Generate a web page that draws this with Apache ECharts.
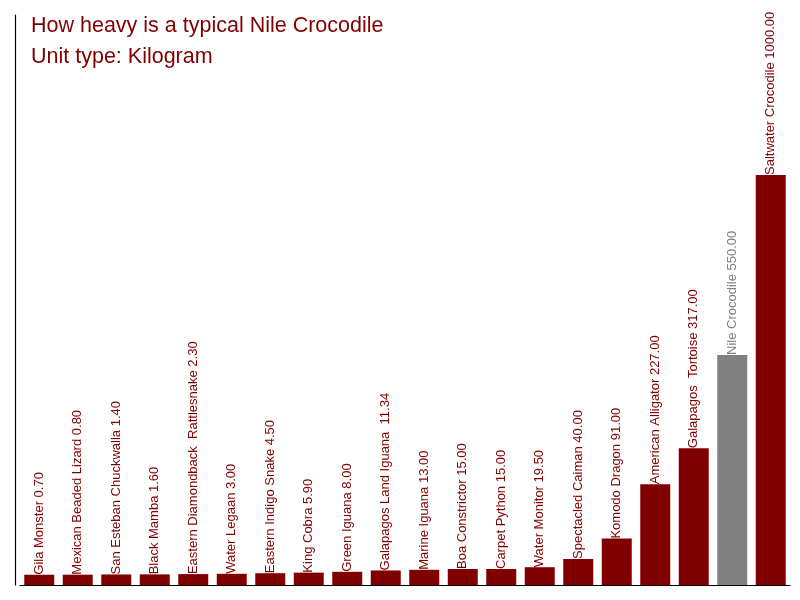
<!DOCTYPE html>
<html>
<head>
<meta charset="utf-8">
<script src="https://cdn.jsdelivr.net/npm/echarts@6/dist/echarts.min.js"></script>
<style>
    html, body { margin: 0; padding: 0; background: #fff; }
    #chart { width: 800px; height: 600px; }
</style>
</head>
<body>
<div id="chart"></div>
<script>
    'use strict';

    const animals = [
        'Gila Monster', 'Mexican Beaded Lizard', 'San Esteban Chuckwalla', 'Black Mamba',
        'Eastern Diamondback  Rattlesnake', 'Water Legaan', 'Eastern Indigo Snake', 'King Cobra',
        'Green Iguana', 'Galapagos Land Iguana ', 'Marine Iguana', 'Boa Constrictor',
        'Carpet Python', 'Water Monitor', 'Spectacled Caiman', 'Komodo Dragon',
        'American Alligator', 'Galapagos  Tortoise', 'Nile Crocodile', 'Saltwater Crocodile'
    ];
    const weights = [
        0.7, 0.8, 1.4, 1.6, 2.3, 3.0, 4.5, 5.9, 8.0, 11.34,
        13.0, 15.0, 15.0, 19.5, 40.0, 91.0, 227.0, 317.0, 550.0, 1000.0
    ];
    const highlight = 'Nile Crocodile';

    const red = '#800000';     // 柱子颜色
    const grey = '#808080';    // 高亮
    const baseOffset = 25;     // 柱子底部的留白

    const chart = echarts.init(document.getElementById('chart'));

    chart.setOption({
        animation: false,
        textStyle: { fontFamily: 'Liberation Sans, Arial, sans-serif' },
        title: {
            text: 'How heavy is a typical Nile Crocodile\nUnit type: Kilogram',
            left: 26,
            top: 6,
            textStyle: {
                color: red,
                fontSize: 21.5,
                fontWeight: 'normal',
                lineHeight: 31
            }
        },
        grid: { left: 20, right: 10, top: 15, bottom: 15 },
        xAxis: {
            type: 'category',
            data: animals,
            axisLine: { lineStyle: { color: '#000', width: 1.2 } },
            axisTick: { show: false },
            axisLabel: { show: false }
        },
        yAxis: {
            type: 'value',
            min: 0,
            max: 1400 + baseOffset,
            offset: 5,
            axisLine: { show: true, lineStyle: { color: '#000', width: 1.2 } },
            axisTick: { show: false },
            axisLabel: { show: false },
            splitLine: { show: false }
        },
        series: [{
            type: 'bar',
            stack: 'w',
            silent: true,
            barWidth: 30,
            itemStyle: { color: red },
            data: animals.map(function (name) {
                return {
                    value: baseOffset,
                    itemStyle: { color: name === highlight ? grey : red }
                };
            })
        }, {
            type: 'bar',
            stack: 'w',
            barWidth: 30,
            data: weights.map(function (v, i) {
                const c = animals[i] === highlight ? grey : red;
                return {
                    value: v,
                    itemStyle: { color: c },
                    label: { color: c }
                };
            }),
            label: {
                show: true,
                position: 'top',
                distance: 0,
                rotate: 90,
                align: 'left',
                verticalAlign: 'middle',
                fontSize: 13,
                formatter: function (p) {
                    return p.name + ' ' + p.value.toFixed(2);
                }
            }
        }]
    });
</script>
</body>
</html>
